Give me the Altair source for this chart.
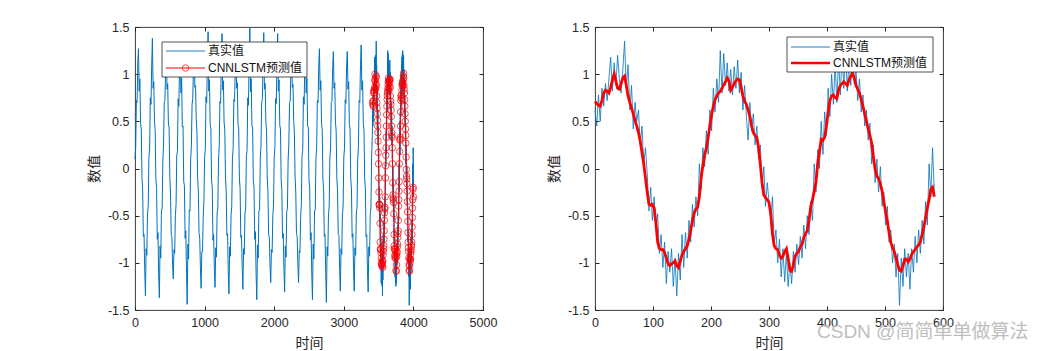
import altair as alt
import pandas as pd

FONT = "Liberation Sans, Arial, Noto Sans CJK SC"
CJK = "Noto Sans CJK SC"
AXC = "#262626"
BLUE = "#0072BD"
RED = "#FF0000"

# ---- data ----
# whole series, t = 0 .. 3410 (step 10)
head_step = 10
head_true = [
    0.10, 0.22, 0.72, 0.70, 1.12, 1.27, 0.82, 0.95, 0.48, 0.42, -0.10, -0.22, -0.72, -0.70, -1.08, -1.35, -0.85, -0.92, -0.48, -0.40,
    0.12, 0.20, 0.75, 0.68, 1.10, 1.38, 0.85, 0.92, 0.50, 0.40, -0.12, -0.20, -0.75, -0.68, -1.12, -1.37, -0.82, -0.95, -0.45, -0.42,
    0.08, 0.25, 0.70, 0.72, 1.05, 1.20, 0.84, 0.90, 0.46, 0.44, -0.08, -0.25, -0.70, -0.72, -1.02, -1.17, -0.86, -0.90, -0.50, -0.38,
    0.14, 0.18, 0.74, 0.66, 1.12, 1.25, 0.80, 0.96, 0.44, 0.45, -0.14, -0.18, -0.74, -0.66, -1.10, -1.44, -0.80, -0.96, -0.44, -0.45,
    0.10, 0.24, 0.68, 0.74, 1.08, 1.25, 0.86, 0.88, 0.52, 0.38, -0.10, -0.24, -0.68, -0.74, -1.05, -1.27, -0.88, -0.88, -0.52, -0.36,
    0.12, 0.20, 0.76, 0.70, 1.15, 1.45, 0.82, 0.94, 0.47, 0.42, -0.12, -0.20, -0.76, -0.70, -1.06, -1.26, -0.84, -0.94, -0.47, -0.42,
    0.09, 0.23, 0.71, 0.69, 1.10, 1.43, 0.83, 0.93, 0.49, 0.41, -0.09, -0.23, -0.71, -0.69, -1.09, -1.33, -0.83, -0.93, -0.49, -0.41,
    0.11, 0.21, 0.73, 0.71, 1.06, 1.25, 0.85, 0.91, 0.47, 0.43, -0.11, -0.21, -0.73, -0.71, -1.04, -1.28, -0.85, -0.91, -0.47, -0.43,
    0.13, 0.19, 0.75, 0.67, 1.14, 1.49, 0.81, 0.95, 0.45, 0.44, -0.13, -0.19, -0.75, -0.67, -1.12, -1.39, -0.81, -0.95, -0.45, -0.44,
    0.10, 0.24, 0.70, 0.73, 1.11, 1.44, 0.84, 0.90, 0.50, 0.39, -0.10, -0.24, -0.70, -0.73, -1.03, -1.21, -0.86, -0.89, -0.50, -0.39,
    0.12, 0.22, 0.74, 0.69, 1.13, 1.43, 0.82, 0.94, 0.46, 0.42, -0.12, -0.22, -0.74, -0.69, -1.08, -1.31, -0.82, -0.94, -0.46, -0.42,
    0.09, 0.25, 0.69, 0.72, 1.07, 1.25, 0.86, 0.89, 0.51, 0.38, -0.09, -0.25, -0.69, -0.72, -1.02, -1.21, -0.87, -0.89, -0.51, -0.38,
    0.13, 0.20, 0.76, 0.68, 1.12, 1.30, 0.80, 0.96, 0.45, 0.44, -0.13, -0.20, -0.76, -0.68, -1.12, -1.39, -0.80, -0.96, -0.45, -0.44,
    0.11, 0.22, 0.72, 0.70, 1.09, 1.27, 0.83, 0.93, 0.48, 0.41, -0.11, -0.22, -0.72, -0.70, -1.10, -1.42, -0.83, -0.93, -0.48, -0.41,
    0.10, 0.23, 0.70, 0.71, 1.06, 1.24, 0.85, 0.91, 0.49, 0.40, -0.10, -0.23, -0.70, -0.71, -1.06, -1.30, -0.85, -0.91, -0.49, -0.40,
    0.12, 0.21, 0.73, 0.69, 1.08, 1.24, 0.84, 0.92, 0.47, 0.42, -0.12, -0.21, -0.73, -0.69, -1.07, -1.30, -0.84, -0.92, -0.47, -0.42,
    0.11, 0.22, 0.72, 0.70, 1.10, 1.31, 0.83, 0.93, 0.48, 0.41, -0.11, -0.22, -0.72, -0.70, -1.08, -1.31, -0.83, -0.93, -0.48, -0.41,
    0.12, 0.35,
]

# test part (starts at t = 3415 of the whole series), step 3
test_start = 3415
test_step = 3
test_true = [
    0.62, 0.45, 0.78, 0.50, 0.85, 0.66, 0.90, 0.72, 0.95, 1.18,
    0.82, 1.12, 0.88, 1.20, 0.95, 0.80, 1.05, 1.35, 0.85, 1.10,
    0.62, 0.88, 0.42, 0.70, 0.50, 0.62, 0.25, 0.45, 0.05, 0.22,
    -0.05, -0.45, -0.20, -0.55, -0.30, -0.62, -0.48, -0.90, -0.70, -1.05,
    -0.78, -1.22, -0.88, -1.10, -0.85, -1.25, -0.95, -1.35, -0.90, -1.18,
    -0.70, -1.05, -0.68, -0.95, -0.55, -0.78, -0.38, -0.62, -0.30, -0.50,
    0.05, -0.22, 0.22, 0.02, 0.40, 0.15, 0.62, 0.40, 0.85, 0.60,
    0.95, 0.70, 1.25, 0.80, 1.22, 0.88, 1.12, 0.82, 1.05, 0.78,
    1.08, 0.85, 1.15, 0.80, 1.02, 0.62, 0.88, 0.55, 0.30, 0.70,
    0.40, 0.58, 0.25, 0.45, 0.10, 0.25, -0.20, 0.02, -0.40, -0.15,
    -0.35, -0.55, -0.30, -0.80, -0.65, -1.00, -0.75, -1.15, -0.85, -1.20,
    -0.90, -1.25, -1.00, -1.22, -0.88, -1.10, -0.80, -1.02, -0.72, -0.95,
    -0.60, -0.85, -0.50, -0.70, -0.35, -0.55, 0.05, -0.25, 0.20, 0.00,
    0.50, 0.15, 0.60, 0.35, 0.85, 0.55, 1.00, 0.68, 1.10, 0.70,
    1.18, 0.78, 1.22, 0.85, 1.25, 0.82, 1.15, 0.88, 1.20, 0.90,
    1.05, 0.72, 0.95, 0.60, 0.78, 0.45, 0.62, 0.30, 0.48, 0.05,
    0.25, -0.15, 0.10, -0.25, 0.02, -0.40, -0.25, -0.60, -0.40, -0.78,
    -0.65, -1.00, -0.80, -1.15, -0.90, -1.45, -0.95, -1.25, -0.85, -1.15,
    -0.90, -1.28, -0.85, -1.10, -0.72, -1.00, -0.65, -0.90, -0.55, -0.80,
    -0.35, -0.60, 0.05, -0.30, 0.22, -0.25,
]

# CNNLSTM prediction on the test part, step 3
pred_step = 3
pred = [
    0.71, 0.69, 0.67, 0.66, 0.72, 0.80, 0.83, 0.82, 0.80, 0.86,
    0.94, 1.00, 0.93, 0.85, 0.84, 0.90, 0.96, 0.98, 0.88, 0.77,
    0.70, 0.64, 0.58, 0.51, 0.45, 0.38, 0.29, 0.17, 0.05, -0.10,
    -0.25, -0.38, -0.39, -0.38, -0.42, -0.58, -0.78, -0.85, -0.86, -0.86,
    -0.89, -0.95, -1.01, -1.03, -1.01, -1.00, -0.98, -1.03, -1.05, -0.98,
    -0.92, -0.88, -0.85, -0.82, -0.75, -0.66, -0.55, -0.47, -0.43, -0.41,
    -0.30, -0.10, 0.03, 0.14, 0.22, 0.33, 0.45, 0.57, 0.66, 0.73,
    0.77, 0.80, 0.82, 0.85, 0.89, 0.92, 0.96, 0.93, 0.83, 0.86,
    0.90, 0.93, 0.95, 0.94, 0.86, 0.77, 0.71, 0.68, 0.62, 0.55,
    0.45, 0.38, 0.35, 0.33, 0.22, 0.05, -0.15, -0.28, -0.31, -0.33,
    -0.36, -0.48, -0.70, -0.82, -0.85, -0.86, -0.92, -0.95, -0.93, -0.88,
    -0.85, -0.95, -1.08, -1.09, -1.02, -0.93, -0.90, -0.88, -0.83, -0.80,
    -0.73, -0.69, -0.66, -0.55, -0.40, -0.33, -0.24, -0.14, 0.05, 0.18,
    0.31, 0.30, 0.33, 0.45, 0.60, 0.72, 0.77, 0.78, 0.75, 0.74,
    0.83, 0.88, 0.90, 0.92, 0.90, 0.88, 0.94, 0.98, 1.01, 0.96,
    0.88, 0.84, 0.80, 0.73, 0.66, 0.58, 0.50, 0.42, 0.35, 0.27,
    0.12, -0.01, -0.08, -0.11, -0.16, -0.24, -0.35, -0.46, -0.56, -0.68,
    -0.78, -0.84, -0.88, -0.95, -1.02, -1.08, -1.09, -1.03, -0.96, -0.96,
    -0.99, -0.96, -0.91, -0.88, -0.86, -0.83, -0.81, -0.78, -0.70, -0.62,
    -0.52, -0.42, -0.33, -0.22, -0.20, -0.30,
]

legend_labels = ["真实值", "CNNLSTM预测值"]
x_title = "时间"
y_title = "数值"
watermark = "CSDN @简简单单做算法"
left_xticks = [0, 1000, 2000, 3000, 4000, 5000]
right_xticks = [0, 100, 200, 300, 400, 500, 600]
yticks = [-1.5, -1, -0.5, 0, 0.5, 1, 1.5]

# ---- tables ----
left_true_df = pd.DataFrame({
    "t": [i * head_step for i in range(len(head_true))] + [test_start + i * test_step for i in range(len(test_true))],
    "v": head_true + test_true,
})
right_true_df = pd.DataFrame({"t": [i * test_step for i in range(len(test_true))], "v": test_true})
left_pred_df = pd.DataFrame({"t": [test_start + i * pred_step for i in range(len(pred))], "v": pred})
right_pred_df = pd.DataFrame({"t": [i * pred_step for i in range(len(pred))], "v": pred})
one = pd.DataFrame({"a": [0]})

W, H = 348, 283
TK = 4


def xaxis_bottom(vals):
    return alt.Axis(orient="bottom", values=vals, offset=-TK, tickSize=TK, domain=False, grid=False,
                    labelPadding=6, labelFontSize=12.5, labelColor=AXC, tickColor=AXC, labelFont=FONT,
                    labelExpr="toString(datum.value)", labelFlush=False, labelOverlap=False,
                    title=x_title, titleFont=CJK, titleFontSize=14, titleFontWeight="normal",
                    titleColor=AXC, titlePadding=8)


def yaxis_left():
    return alt.Axis(orient="left", values=yticks, offset=-TK, tickSize=TK, domain=False, grid=False,
                    labelPadding=6, labelFontSize=12.5, labelColor=AXC, tickColor=AXC, labelFont=FONT,
                    labelExpr="toString(datum.value)", labelFlush=False, labelOverlap=False,
                    title=y_title, titleFont=CJK, titleFontSize=14, titleFontWeight="normal",
                    titleColor=AXC, titlePadding=6)


def xaxis_top(vals):
    return alt.Axis(orient="top", values=vals, offset=-TK, tickSize=TK, domain=False, grid=False,
                    labels=False, tickColor=AXC, title=None)


def yaxis_right():
    return alt.Axis(orient="right", values=yticks, offset=-TK, tickSize=TK, domain=False, grid=False,
                    labels=False, tickColor=AXC, title=None)


def legend_layers(x0, y0, x1, y1, row1, row2, second_kind):
    box = alt.Chart(one).mark_rect(fill="white", stroke=AXC, strokeWidth=0.8).encode(
        x=alt.value(x0), x2=alt.value(x1), y=alt.value(y0), y2=alt.value(y1))
    lx0, lx1 = x0 + 4, x0 + 43
    tx = x0 + 46
    l1 = alt.Chart(one).mark_rule(color=BLUE, strokeWidth=0.9).encode(
        x=alt.value(lx0), x2=alt.value(lx1), y=alt.value(row1))
    t1 = alt.Chart(one).mark_text(align="left", baseline="middle", font=FONT, fontSize=12, color="#111111").encode(
        x=alt.value(tx), y=alt.value(row1), text=alt.value(legend_labels[0]))
    t2 = alt.Chart(one).mark_text(align="left", baseline="middle", font=FONT, fontSize=12, color="#111111").encode(
        x=alt.value(tx), y=alt.value(row2), text=alt.value(legend_labels[1]))
    layers = [box, l1, t1]
    if second_kind == "circle":
        l2 = alt.Chart(one).mark_rule(color=RED, strokeWidth=1).encode(
            x=alt.value(lx0), x2=alt.value(lx1), y=alt.value(row2))
        c2 = alt.Chart(one).mark_point(shape="circle", filled=False, color=RED, size=42, strokeWidth=1).encode(
            x=alt.value((lx0 + lx1) / 2), y=alt.value(row2))
        layers += [l2, c2]
    else:
        l2 = alt.Chart(one).mark_rule(color=RED, strokeWidth=2.6).encode(
            x=alt.value(lx0), x2=alt.value(lx1), y=alt.value(row2))
        layers += [l2]
    layers.append(t2)
    return layers


# ---- left panel ----
lx = alt.Scale(domain=[0, 5000], nice=False, zero=False)
ys = alt.Scale(domain=[-1.5, 1.5], nice=False, zero=False)

left_blue = alt.Chart(left_true_df).mark_line(color=BLUE, strokeWidth=1.0).encode(
    x=alt.X("t:Q", scale=lx, axis=xaxis_bottom(left_xticks)),
    y=alt.Y("v:Q", scale=ys, axis=yaxis_left()),
)
left_red_line = alt.Chart(left_pred_df).mark_line(color=RED, strokeWidth=1).encode(
    x=alt.X("t:Q", scale=lx, axis=xaxis_top(left_xticks)),
    y=alt.Y("v:Q", scale=ys, axis=yaxis_right()),
)
left_red_pts = alt.Chart(left_pred_df).mark_point(shape="circle", filled=False, color=RED, size=42, strokeWidth=1).encode(
    x=alt.X("t:Q", scale=lx, axis=None),
    y=alt.Y("v:Q", scale=ys, axis=None),
)
left = alt.layer(
    left_blue, left_red_line, left_red_pts,
    *legend_layers(27, 15, 172, 50, 24, 41, "circle"),
).resolve_axis(x="independent", y="independent").properties(width=W, height=H)

# ---- right panel ----
rx = alt.Scale(domain=[0, 600], nice=False, zero=False)
right_blue = alt.Chart(right_true_df).mark_line(color=BLUE, strokeWidth=0.8).encode(
    x=alt.X("t:Q", scale=rx, axis=xaxis_bottom(right_xticks)),
    y=alt.Y("v:Q", scale=ys, axis=yaxis_left()),
)
right_red = alt.Chart(right_pred_df).mark_line(color=RED, strokeWidth=2.8).encode(
    x=alt.X("t:Q", scale=rx, axis=xaxis_top(right_xticks)),
    y=alt.Y("v:Q", scale=ys, axis=yaxis_right()),
)
wm = alt.Chart(one).mark_text(align="left", baseline="middle", font=FONT, fontSize=19,
                              color="#b8b8b8", opacity=0.9).encode(
    x=alt.value(222), y=alt.value(305), text=alt.value(watermark))
right = alt.layer(
    right_blue, right_red,
    *legend_layers(192, 10, 338, 45, 20, 36, "thick"),
    wm,
).resolve_axis(x="independent", y="independent").properties(width=W, height=H)

chart = alt.hconcat(left, right, spacing=49).properties(
    padding={"left": 87, "top": 20, "right": 0, "bottom": 0},
    background="white",
).configure_view(stroke=AXC, strokeWidth=0.9).configure_concat(spacing=49)

chart.save("out.html", embed_options={"renderer": "svg", "actions": False})
